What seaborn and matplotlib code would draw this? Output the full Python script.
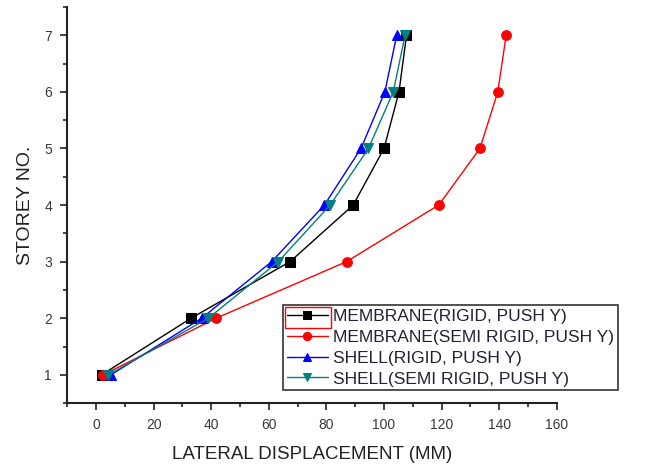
import matplotlib
matplotlib.use('Agg')
from matplotlib import pyplot as plt
from matplotlib.patches import Rectangle
from matplotlib.ticker import MultipleLocator
import seaborn as sns
import pandas as pd

storey = [1, 2, 3, 4, 5, 6, 7]
membrane_rigid = [2.0, 33.0, 67.4, 89.3, 100.0, 105.2, 107.8]
membrane_semi = [2.5, 41.7, 87.0, 119.0, 133.3, 139.5, 142.4]
shell_rigid = [5.2, 36.7, 61.0, 79.3, 92.0, 100.3, 104.4]
shell_semi = [4.3, 39.0, 63.3, 81.3, 94.6, 103.2, 107.3]

labels = ['MEMBRANE(RIGID, PUSH Y)', 'MEMBRANE(SEMI RIGID, PUSH Y)',
          'SHELL(RIGID, PUSH Y)', 'SHELL(SEMI RIGID, PUSH Y)']
colors = ['black', 'red', 'blue', '#008080']
markers = ['s', 'o', '^', 'v']

sns.set_style('ticks')
plt.rcParams['font.family'] = ['Liberation Sans', 'DejaVu Sans']

fig = plt.figure(figsize=(6.46, 4.66), dpi=100)
ax = fig.add_axes([0.104, 0.135, 0.758, 0.85])

# plot each series as storey vs displacement
for vals, lab, c, m in zip([membrane_rigid, membrane_semi, shell_rigid, shell_semi],
                           labels, colors, markers):
    df = pd.DataFrame({'disp': vals, 'storey': storey})
    sns.lineplot(data=df, x='disp', y='storey', sort=False, color=c, marker=m,
                 markersize=7, markeredgecolor=c, linewidth=1, label=lab, ax=ax)

ax.set_xlim(-10, 160)
ax.set_ylim(0.5, 7.5)
ax.xaxis.set_major_locator(MultipleLocator(20))
ax.xaxis.set_minor_locator(MultipleLocator(10))
ax.yaxis.set_major_locator(MultipleLocator(1))
ax.yaxis.set_minor_locator(MultipleLocator(0.5))
ax.tick_params(which='major', length=5, width=1.2, colors='#222222',
               labelsize=10, labelcolor='#3a3a3a', pad=6)
ax.tick_params(which='minor', length=3, width=1.2, colors='#222222')
ax.set_xticks([0, 20, 40, 60, 80, 100, 120, 140, 160])
ax.set_yticks([1, 2, 3, 4, 5, 6, 7])
for s in ['top', 'right']:
    ax.spines[s].set_visible(False)
for s in ['left', 'bottom']:
    ax.spines[s].set_linewidth(1.5)
    ax.spines[s].set_color('#222222')

ax.set_xlabel('LATERAL DISPLACEMENT (MM)', fontsize=13.5, color='#222222', labelpad=10)
ax.set_ylabel('STOREY NO.', fontsize=14, color='#222222', labelpad=7)

leg = ax.legend(loc='upper left', bbox_to_anchor=(0.441, 0.247), frameon=True,
                fancybox=False, edgecolor='black', fontsize=12.5,
                handlelength=2.4, handletextpad=0.3, borderpad=0.2,
                labelspacing=0.33, borderaxespad=0)
leg.get_frame().set_linewidth(1.2)
for h in leg.legend_handles:
    h.set_markersize(6)
for t in leg.get_texts():
    t.set_color('#222233')

# red selection box round the first legend key
fig.canvas.draw()
fb = leg.get_frame().get_window_extent()
tb = leg.get_texts()[0].get_window_extent()
x0 = fb.x0 + 2
y0 = tb.y0 - 4
w = tb.x0 - x0 - 2
h = tb.height + 6
fig.patches.append(Rectangle((x0 / fig.bbox.width, y0 / fig.bbox.height),
                             w / fig.bbox.width, h / fig.bbox.height,
                             transform=fig.transFigure, fill=False,
                             edgecolor='red', linewidth=1))

plt.savefig('out.png', dpi=100)
plt.close()
